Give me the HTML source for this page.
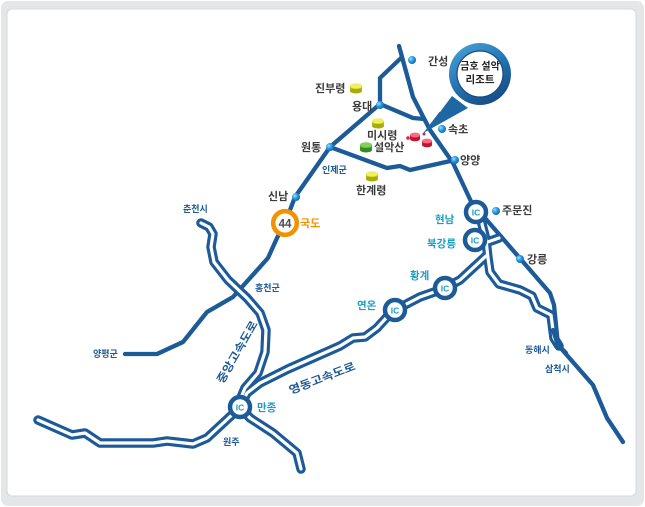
<!DOCTYPE html>
<html><head><meta charset="utf-8">
<style>
html,body{margin:0;padding:0;background:#fff;}
svg{display:block;}
text{font-family:"Liberation Sans","Noto Sans CJK KR",sans-serif;font-weight:bold;}
</style></head><body>
<svg width="645" height="507" viewBox="0 0 645 507" xmlns="http://www.w3.org/2000/svg">
<defs>
<radialGradient id="dot" cx="0.35" cy="0.35" r="0.75"><stop offset="0" stop-color="#9be0ff"/><stop offset="0.45" stop-color="#2a9be0"/><stop offset="1" stop-color="#0f5fa8"/></radialGradient>
<linearGradient id="ring" x1="0" y1="0" x2="0.6" y2="1"><stop offset="0" stop-color="#4ea6dd"/><stop offset="0.6" stop-color="#2272b0"/><stop offset="1" stop-color="#174f86"/></linearGradient>
</defs>
<rect x="1" y="1" width="643" height="505" rx="7" fill="#e4e6e8"/>
<rect x="7" y="9" width="629" height="487" rx="5" fill="#fff" stroke="#d6d9dc" stroke-width="1"/>

<!-- single roads -->
<g fill="none" stroke="#1d5b98" stroke-width="4.3" stroke-linejoin="round" stroke-linecap="round">
<path d="M399,46 L413,97 L430,130 L453,163 L476,212 L485,218 L550,293 L554,305 L558,345 L593,385 L607,418 L623,442"/>
<path d="M401,58 L380,78 L380,104 L413,118 L424,119"/>
<path d="M380,104 L330,147 L295,197 L285,223 L277,238 L268,258 L233,297 L207,312 L183,342 L157,354 L125,354"/>
<path d="M330,147 L387,168 L400,166 L410,170 L455,160"/>
</g>

<!-- double roads -->
<g fill="none" stroke-linejoin="round" stroke-linecap="round">
<g stroke="#1d5b98" stroke-width="9.5">
<path d="M201,223 L209,227 L213,234 L211,247 L214,262 L228,280 L247,298 L260,313 L266,330 L265,352 L258,373 L245,388 L240,400"/>
<path d="M240,407 L247,393 L260,383 L288,369 L340,346 L353,338 L365,337 L377,328 L387,317 L395,310 L420,297 L440,290 L445,288 L460,280 L486,256"/>
<path d="M240,407 L234,413 L207,438 L193,444 L167,441 L153,443 L137,443 L100,443 L85,433 L72,435 L38,420"/>
<path d="M240,407 L250,418 L273,433 L297,453 L301,469"/>
<path d="M481,220 L486,240 L488,258 L490,272 L499,284 L520,290 L532,296 L537,308 L551,315 L554,338 L559,346"/>
<path d="M485,243 L499,238"/>
</g>
<g stroke="#fff" stroke-width="3.2">
<path d="M201,223 L209,227 L213,234 L211,247 L214,262 L228,280 L247,298 L260,313 L266,330 L265,352 L258,373 L245,388 L240,400"/>
<path d="M240,407 L247,393 L260,383 L288,369 L340,346 L353,338 L365,337 L377,328 L387,317 L395,310 L420,297 L440,290 L445,288 L460,280 L486,256"/>
<path d="M240,407 L234,413 L207,438 L193,444 L167,441 L153,443 L137,443 L100,443 L85,433 L72,435 L38,420"/>
<path d="M240,407 L250,418 L273,433 L297,453 L301,469"/>
<path d="M481,220 L486,240 L488,258 L490,272 L499,284 L520,290 L532,296 L537,308 L551,315 L554,338 L559,346"/>
<path d="M485,243 L499,238"/>
</g>
</g>
<g fill="none" stroke="#1d5b98" stroke-width="4.3" stroke-linecap="round">
<path d="M553,330 L558,345 L566,353"/>
</g>

<!-- IC circles -->
<g fill="#fff" stroke="#1d5b98" stroke-width="4.5">
<circle cx="476" cy="212" r="10"/>
<circle cx="475" cy="240" r="10"/>
<circle cx="445" cy="288" r="10"/>
<circle cx="395" cy="310" r="10"/>
<circle cx="240" cy="407" r="10"/>
</g>
<g fill="#1a9fc4" font-size="8.5" text-anchor="middle">
<text x="476" y="215.5">IC</text>
<text x="475" y="243.5">IC</text>
<text x="445" y="291.5">IC</text>
<text x="395" y="313.5">IC</text>
<text x="240" y="410.5">IC</text>
</g>

<!-- 44 route marker -->
<circle cx="285" cy="223" r="11.8" fill="#fff" stroke="#f39200" stroke-width="4.6"/>
<text x="285" y="227.5" font-size="11.5" text-anchor="middle" fill="#4a4a4a">44</text>
<text x="300" y="227" font-size="11" fill="#f39200">국도</text>

<!-- blue dots -->
<g fill="url(#dot)">
<circle cx="412" cy="60" r="4"/>
<circle cx="380" cy="105" r="4"/>
<circle cx="330" cy="147" r="4"/>
<circle cx="296" cy="197" r="4"/>
<circle cx="442" cy="129" r="4"/>
<circle cx="455" cy="160" r="4"/>
<circle cx="496" cy="211" r="4"/>
<circle cx="520" cy="259" r="4"/>
</g>

<!-- hexagon markers -->
<g>
<g transform="translate(356,88)"><rect x="-6" y="-2" width="12" height="5" fill="#b7ba0e"/><ellipse cx="0" cy="3" rx="6" ry="2.5" fill="#a8ab08"/><ellipse cx="0" cy="-2" rx="6" ry="2.8" fill="#eef064"/></g>
<g transform="translate(378,123)"><rect x="-6" y="-2" width="12" height="5" fill="#b7ba0e"/><ellipse cx="0" cy="3" rx="6" ry="2.5" fill="#a8ab08"/><ellipse cx="0" cy="-2" rx="6" ry="2.8" fill="#eef064"/></g>
<g transform="translate(372,176)"><rect x="-6" y="-2" width="12" height="5" fill="#b7ba0e"/><ellipse cx="0" cy="3" rx="6" ry="2.5" fill="#a8ab08"/><ellipse cx="0" cy="-2" rx="6" ry="2.8" fill="#eef064"/></g>
<g transform="translate(366,147)"><rect x="-6" y="-2" width="12" height="5" fill="#3f9a2a"/><ellipse cx="0" cy="3" rx="6" ry="2.5" fill="#358a22"/><ellipse cx="0" cy="-2" rx="6" ry="2.8" fill="#7fd05c"/></g>
<g transform="translate(415,137)"><rect x="-5" y="-2" width="10" height="4" fill="#d21a3c"/><ellipse cx="0" cy="2" rx="5" ry="2.3" fill="#c0142f"/><ellipse cx="0" cy="-2" rx="5" ry="2.4" fill="#ff6a84"/></g>
<g transform="translate(427,143)"><rect x="-5" y="-2" width="10" height="4" fill="#d21a3c"/><ellipse cx="0" cy="2" rx="5" ry="2.3" fill="#c0142f"/><ellipse cx="0" cy="-2" rx="5" ry="2.4" fill="#ff6a84"/></g>
<circle cx="408" cy="138" r="1.8" fill="#e0203c"/>
<circle cx="424" cy="134" r="1.5" fill="#e0203c"/>
</g>

<!-- callout -->
<polygon points="452,96 468,108 425,132" fill="#1f67a3"/>
<line x1="440" y1="112" x2="424" y2="133" stroke="#1f67a3" stroke-width="1"/>
<circle cx="480" cy="74" r="31" fill="url(#ring)"/>
<circle cx="480" cy="74" r="23" fill="#fff" stroke="#164c80" stroke-width="1.2"/>
<text x="480" y="69.5" font-size="10" text-anchor="middle" fill="#222">금호 설악</text>
<text x="480" y="83" font-size="10.5" text-anchor="middle" fill="#222">리조트</text>

<!-- dark labels -->
<g fill="#3c3c3c" font-size="11">
<text x="428" y="65">간성</text>
<text x="315" y="92">진부령</text>
<text x="352" y="110">용대</text>
<text x="367" y="139">미시령</text>
<text x="374" y="151">설악산</text>
<text x="301" y="151">원통</text>
<text x="356" y="194">한계령</text>
<text x="448" y="133">속초</text>
<text x="460" y="164">양양</text>
<text x="268" y="200">신남</text>
<text x="502" y="214">주문진</text>
<text x="527" y="263">강릉</text>
</g>

<!-- blue region labels -->
<g fill="#1d5a94" font-size="9">
<text x="322" y="173">인제군</text>
<text x="183" y="212">춘천시</text>
<text x="255" y="291">홍천군</text>
<text x="93" y="357">양평군</text>
<text x="223" y="445">원주</text>
<text x="525" y="353">동해시</text>
<text x="545" y="372">삼척시</text>
</g>

<!-- teal IC labels -->
<g fill="#1a9fc4" font-size="10.5">
<text x="435" y="223">현남</text>
<text x="427" y="247">북강릉</text>
<text x="410" y="279">황계</text>
<text x="357" y="309">연온</text>
<text x="257" y="411">만종</text>
</g>

<!-- expressway labels -->
<g fill="#1d5a94" font-size="11" text-anchor="middle">
<text transform="translate(237,352) rotate(-60)" x="0" y="4" textLength="70" lengthAdjust="spacingAndGlyphs">중앙고속도로</text>
<text transform="translate(322,378) rotate(-21)" x="0" y="4" textLength="70" lengthAdjust="spacingAndGlyphs">영동고속도로</text>
</g>
</svg>
</body></html>
